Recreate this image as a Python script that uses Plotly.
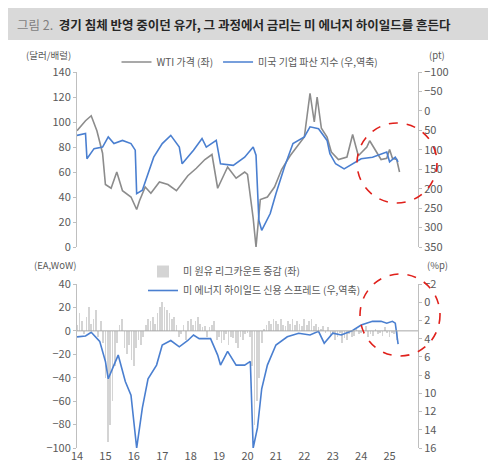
import plotly.graph_objects as go

# ---- data (decimal years) ----
wti_x = [2014.0,2014.3,2014.5,2014.7,2014.9,2015.0,2015.2,2015.4,2015.6,2015.9,2016.1,2016.2,2016.4,2016.6,2016.9,2017.2,2017.5,2017.9,2018.2,2018.5,2018.75,2018.95,2019.3,2019.6,2019.9,2020.0,2020.2,2020.3,2020.45,2020.7,2020.95,2021.2,2021.5,2021.8,2022.0,2022.2,2022.35,2022.45,2022.6,2022.8,2022.95,2023.2,2023.5,2023.7,2023.9,2024.2,2024.3,2024.7,2024.9,2025.0,2025.1,2025.25,2025.35]
wti_y = [93,101,105,93,75,50,47,60,45,40,30,37,48,43,52,50,45,57,63,70,74,47,64,55,60,58,23,0,38,40,48,62,73,82,88,123,100,120,95,88,76,70,72,90,73,80,85,70,71,78,71,70,60]

bk_x = [2014.0,2014.3,2014.35,2014.6,2014.9,2015.1,2015.3,2015.6,2015.9,2016.05,2016.1,2016.3,2016.7,2017.0,2017.3,2017.6,2017.7,2018.1,2018.4,2018.55,2018.9,2019.05,2019.5,2019.9,2020.2,2020.3,2020.4,2020.5,2020.8,2021.0,2021.3,2021.6,2022.0,2022.2,2022.5,2022.8,2022.9,2023.1,2023.4,2023.7,2024.0,2024.4,2024.7,2024.9,2025.0,2025.2,2025.3]
bk_y = [63,58,123,97,93,67,84,76,84,101,213,204,119,84,63,93,136,101,71,93,76,136,140,119,93,114,281,307,264,213,144,84,67,41,46,76,110,136,149,136,123,119,110,106,131,119,131]

sp_x = [2014.0,2014.3,2014.5,2014.8,2015.0,2015.1,2015.3,2015.45,2015.7,2015.9,2016.1,2016.3,2016.5,2016.8,2017.0,2017.3,2017.6,2017.9,2018.1,2018.3,2018.7,2018.95,2019.05,2019.3,2019.6,2019.9,2020.1,2020.2,2020.35,2020.5,2020.7,2021.0,2021.4,2021.8,2022.2,2022.5,2022.7,2023.0,2023.3,2023.7,2024.0,2024.4,2024.7,2024.9,2025.1,2025.2,2025.3]
sp_y = [3.8,3.7,3.3,4.3,6.5,8.4,6.9,5.8,8.7,10.2,16,11.6,8.4,6.9,4.7,4.2,4.9,4.2,3.6,4.0,4.0,5.8,6.9,5.4,6.9,6.9,6.5,16,13.8,9.5,6.9,4.7,3.8,3.4,3.6,3.2,4.5,3.4,3.6,3.1,2.5,2.1,2.1,2.3,2.1,2.3,4.6]

rig_vals = [5,15,8,-3,12,20,6,10,18,-5,8,-10,
            -40,-95,-80,-60,-30,-10,5,10,-15,-20,-12,-25,
            -30,-15,-8,-12,-5,5,10,8,12,6,15,20,
            25,20,18,15,10,12,5,-5,-3,5,-8,8,
            10,5,8,12,6,3,4,-5,3,5,8,-8,
            -5,-10,-8,-3,-12,-5,-6,-10,-15,-5,-8,-3,
            -2,-5,-30,-80,-60,-40,-10,2,5,8,6,10,
            8,6,10,5,4,8,6,10,5,8,6,4,
            10,5,8,10,4,6,3,2,4,-2,3,-5,
            -3,-8,-5,-2,-10,-6,-8,-3,-5,-4,2,-3,
            -2,-3,4,-5,-3,-4,2,-3,-2,-4,3,-2,
            -5,-2,-3,-8]
rig_x = [2014 + i/12 for i in range(len(rig_vals))]

year_ticks = list(range(2014, 2026))
year_labels = [str(y % 100) for y in year_ticks]

FONT = "Noto Sans CJK KR"
GRAY = "#8c8c8c"
BLUE = "#4a7fd0"
TXT = "#595959"

# page has an 8px body margin: map reference pixels to paper fractions
OFF = 8
W, H = 500 - OFF, 469 - OFF
def px(x): return (x - OFF) / W
def py(y): return 1 - (y - OFF) / H

fig = go.Figure()
fig.add_trace(go.Scatter(x=wti_x, y=wti_y, mode="lines", line=dict(color=GRAY, width=1.6),
                         name="WTI 가격 (좌)", xaxis="x", yaxis="y", legend="legend"))
fig.add_trace(go.Scatter(x=bk_x, y=bk_y, mode="lines", line=dict(color=BLUE, width=1.6),
                         name="미국 기업 파산 지수 (우,역축)", xaxis="x", yaxis="y2", legend="legend"))
fig.add_trace(go.Bar(x=rig_x, y=rig_vals, marker=dict(color="#d4d4d4", line=dict(width=0)), width=0.025,
                     name="미 원유 리그카운트 증감 (좌)", xaxis="x2", yaxis="y3", legend="legend2"))
fig.add_trace(go.Scatter(x=sp_x, y=sp_y, mode="lines", line=dict(color=BLUE, width=1.6),
                         name="미 에너지 하이일드 신용 스프레드 (우,역축)", xaxis="x2", yaxis="y4", legend="legend2"))

xd = [px(77), px(418)]
topd = [py(247), py(72)]
botd = [py(448), py(284)]
axcommon = dict(showgrid=False, zeroline=False, showline=True, linecolor="#bfbfbf",
                ticks="outside", ticklen=3, tickcolor="#bfbfbf", tickfont=dict(color=TXT, size=11))
fig.update_layout(
    width=W, height=H, margin=dict(l=0, r=0, t=0, b=0, autoexpand=False),
    paper_bgcolor="white", plot_bgcolor="white", font=dict(family=FONT, color=TXT, size=11),
    bargap=0,
    xaxis=dict(domain=xd, range=[2014, 2026], anchor="y", showticklabels=False, showgrid=False,
               zeroline=False, showline=False, ticks=""),
    yaxis=dict(domain=topd, range=[0, 140], dtick=20, anchor="x", **axcommon),
    yaxis2=dict(domain=topd, range=[350, -100], dtick=50, overlaying="y", side="right",
                anchor="x", **axcommon),
    xaxis2=dict(domain=xd, range=[2014, 2026], anchor="y3", tickvals=year_ticks, ticktext=year_labels,
                showgrid=False, zeroline=False, showline=False, ticks="", tickfont=dict(color=TXT, size=11)),
    yaxis3=dict(domain=botd, range=[-100, 40], dtick=20, anchor="x2", **axcommon),
    yaxis4=dict(domain=botd, range=[16, -2], dtick=2, overlaying="y3", side="right",
                anchor="x2", **axcommon),
    legend=dict(orientation="h", x=px(250), xanchor="center", y=py(62), yanchor="middle",
                font=dict(size=10, color=TXT), bgcolor="rgba(0,0,0,0)"),
    legend2=dict(orientation="v", x=px(143), xanchor="left", y=py(281), yanchor="middle",
                 font=dict(size=10, color=TXT), bgcolor="rgba(0,0,0,0)", tracegroupgap=0),
)

# zero line bottom panel
fig.add_shape(type="line", xref="x2", yref="y3", x0=2014, x1=2026, y0=0, y1=0,
              line=dict(color="#a6a6a6", width=1))

# title band
fig.add_shape(type="rect", xref="paper", yref="paper", x0=px(8), x1=px(488), y0=py(40), y1=py(8),
              fillcolor="#d9d9d9", line=dict(width=0), layer="below")
fig.add_annotation(xref="paper", yref="paper", x=px(15), y=py(24), xanchor="left", yanchor="middle",
                   showarrow=False,
                   text="<span style='color:#7f7f7f'>그림 2.</span>  <b>경기 침체 반영 중이던 유가, 그 과정에서 금리는 미 에너지 하이일드를 흔든다</b>",
                   font=dict(size=12.5, color="#262626"))

for txt, x, y in [("(달러/배럴)", 48, 55), ("(pt)", 437, 55),
                  ("(EA,WoW)", 55, 265), ("(%p)", 437, 265)]:
    fig.add_annotation(xref="paper", yref="paper", x=px(x), y=py(y), xanchor="center", yanchor="middle",
                       showarrow=False, text=txt, font=dict(size=9.5, color=TXT))

# red dashed circles
for cx, cy, rx, ry in [(397, 163, 40, 40), (400, 315, 40, 41)]:
    fig.add_shape(type="circle", xref="paper", yref="paper",
                  x0=px(cx-rx), x1=px(cx+rx), y0=py(cy+ry), y1=py(cy-ry),
                  line=dict(color="#e0201b", width=1.6, dash="dash"))

fig.write_html("out.html")
